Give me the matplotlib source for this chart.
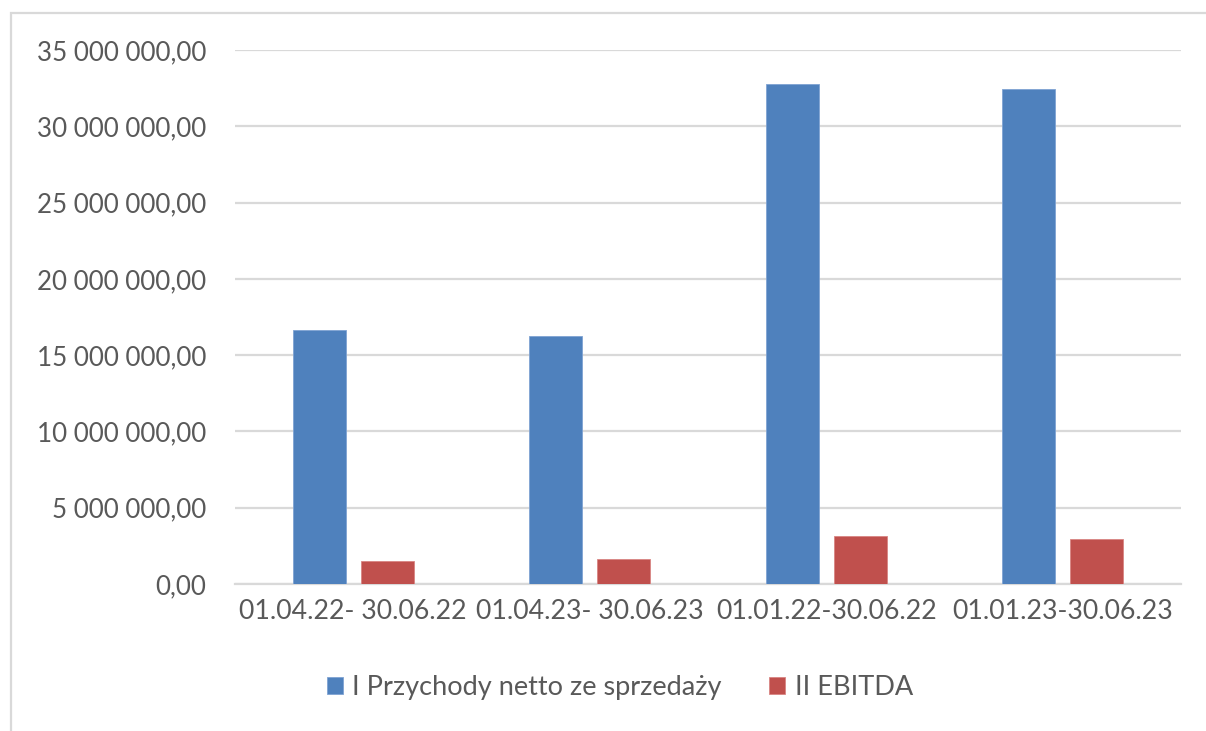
from matplotlib import pyplot as plt
from matplotlib.patches import Rectangle
from matplotlib.ticker import FuncFormatter, MultipleLocator
import numpy as np

plt.rc('font', family=['Lato', 'DejaVu Sans'], size=17)

categories = ['01.04.22- 30.06.22', '01.04.23- 30.06.23',
              '01.01.22-30.06.22', '01.01.23-30.06.23']
przychody = [16660000, 16240000, 32750000, 32440000]
ebitda = [1510000, 1620000, 3130000, 2980000]
series_names = ['I Przychody netto ze sprzedaży', 'II EBITDA']
colors = ['#4F81BD', '#C0504D']
text_color = '#595959'
grid_color = '#D9D9D9'


def pl_format(v, pos):
    return f'{v:,.2f}'.replace(',', ' ').replace('.', ',')


fig = plt.figure(figsize=(12.06, 7.31), dpi=100)
ax = fig.add_axes([0.1949, 0.2011, 0.7844, 0.7305])

x = np.arange(len(categories))
w = 0.224
off = 0.1435
ax.bar(x - off, przychody, w, color=colors[0], edgecolor='#7FA3D3',
       linewidth=0.6, label=series_names[0], zorder=3)
ax.bar(x + off, ebitda, w, color=colors[1], edgecolor='#D98583',
       linewidth=0.6, label=series_names[1], zorder=3)

ax.set_xlim(-0.5, len(categories) - 0.5)
ax.set_ylim(0, 35000000)
ax.yaxis.set_major_locator(MultipleLocator(5000000))
ax.yaxis.set_major_formatter(FuncFormatter(pl_format))
ax.set_xticks(x, categories)

ax.grid(axis='y', color=grid_color, linewidth=1.6, zorder=0)
for s in ['top', 'right', 'left']:
    ax.spines[s].set_visible(False)
ax.spines['bottom'].set_color(grid_color)
ax.spines['bottom'].set_linewidth(1.6)
ax.tick_params(axis='both', length=0, colors=text_color)
ax.tick_params(axis='y', pad=21, labelsize=18.7)
ax.tick_params(axis='x', pad=11, labelsize=19.2)

leg = fig.legend(loc='center', bbox_to_anchor=(0.514, 0.059), ncol=2,
                 frameon=False, handlelength=0.6, handleheight=0.6,
                 handletextpad=0.35, columnspacing=1.75, fontsize=19.5)
for t in leg.get_texts():
    t.set_color(text_color)

# chart border (only top and left visible in the crop)
fig.patches.append(Rectangle((11 / 1206, -0.1), 1.2, 1 - 13 / 731 + 0.1,
                             transform=fig.transFigure, fill=False,
                             edgecolor=grid_color, linewidth=1.6))

fig.savefig('out.png', dpi=100)
